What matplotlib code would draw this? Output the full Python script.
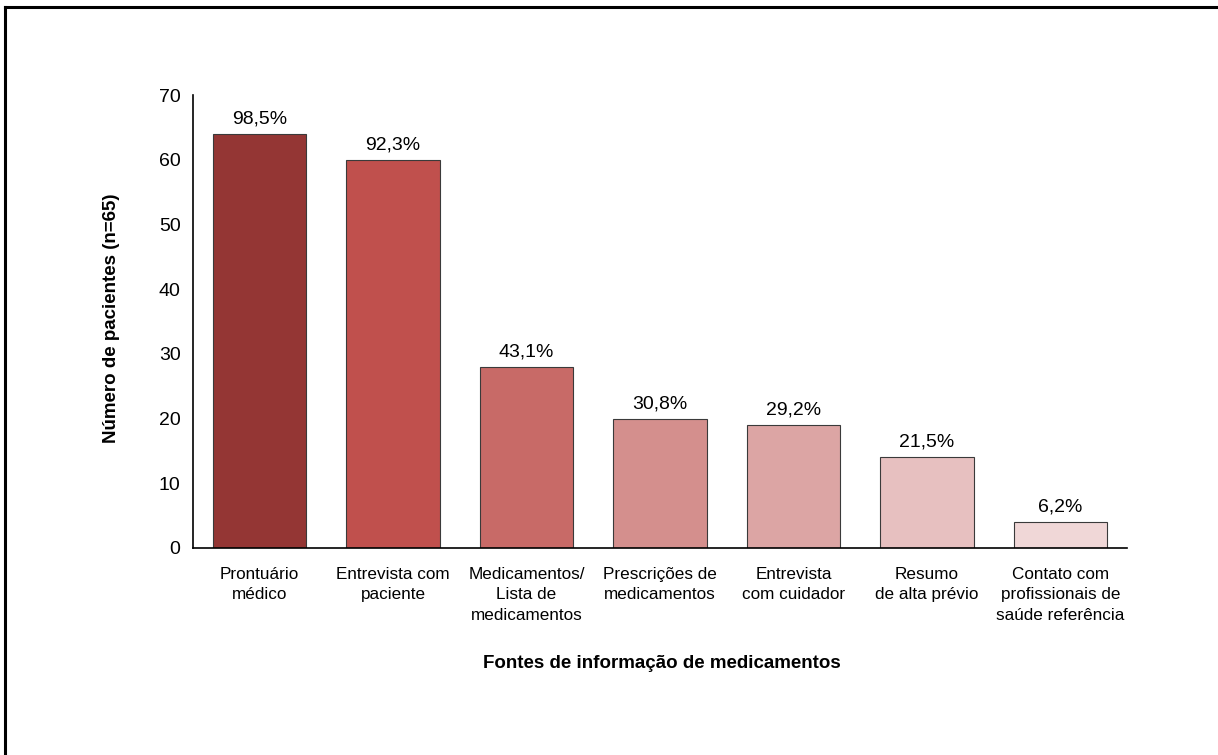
import matplotlib.pyplot as plt
from matplotlib.lines import Line2D

plt.rcParams['font.family'] = ['Liberation Sans', 'DejaVu Sans']

# fontes de informação e número de pacientes (n=65)
fontes = ['Prontuário\nmédico', 'Entrevista com\npaciente', 'Medicamentos/\nLista de\nmedicamentos',
          'Prescrições de\nmedicamentos', 'Entrevista\ncom cuidador', 'Resumo\nde alta prévio',
          'Contato com\nprofissionais de\nsaúde referência']
pacientes = [64, 60, 28, 20, 19, 14, 4]
percentuais = ['98,5%', '92,3%', '43,1%', '30,8%', '29,2%', '21,5%', '6,2%']
cores = ['#943634', '#C0504D', '#C86a67', '#D48F8D', '#DCA5A4', '#E7C0C0', '#F0D7D7']

fig = plt.figure(figsize=(12.18, 7.55), dpi=100)
ax = fig.add_axes([193/1218, 1 - 548/755, (1127-193)/1218, (548-95)/755])

x = range(len(pacientes))
bars = ax.bar(x, pacientes, width=0.7, color=cores, edgecolor='#3a3a3a', linewidth=0.8)
for b, txt in zip(bars, percentuais):
    ax.text(b.get_x() + b.get_width()/2, b.get_height() + 1.0, txt,
            ha='center', va='bottom', fontsize=14)

ax.set_xlim(-0.5, 6.5)
ax.set_ylim(0, 70)
ax.set_yticks(range(0, 71, 10))
ax.set_xticks(list(x))
ax.set_xticklabels(fontes, fontsize=12.3, linespacing=1.42, va='top')
ax.tick_params(axis='y', length=0, labelsize=14, pad=9)
ax.tick_params(axis='x', length=0, pad=14)
for s in ['top', 'right']:
    ax.spines[s].set_visible(False)
ax.spines['left'].set_linewidth(1.2)
ax.spines['bottom'].set_linewidth(1.2)

ax.set_ylabel('Número de pacientes (n=65)', fontsize=13.5, fontweight='bold')
ax.yaxis.set_label_coords(-0.078, 0.508)
fig.text(662/1218, 1 - 663/755, 'Fontes de informação de medicamentos',
         ha='center', va='center', fontsize=13.5, fontweight='bold')

# moldura superior e esquerda
fig.add_artist(Line2D([5/1218, 1], [1 - 7/755, 1 - 7/755], color='black', lw=2.2))
fig.add_artist(Line2D([5/1218, 5/1218], [0, 1 - 7/755], color='black', lw=2.2))

fig.savefig('out.png', dpi=100)
